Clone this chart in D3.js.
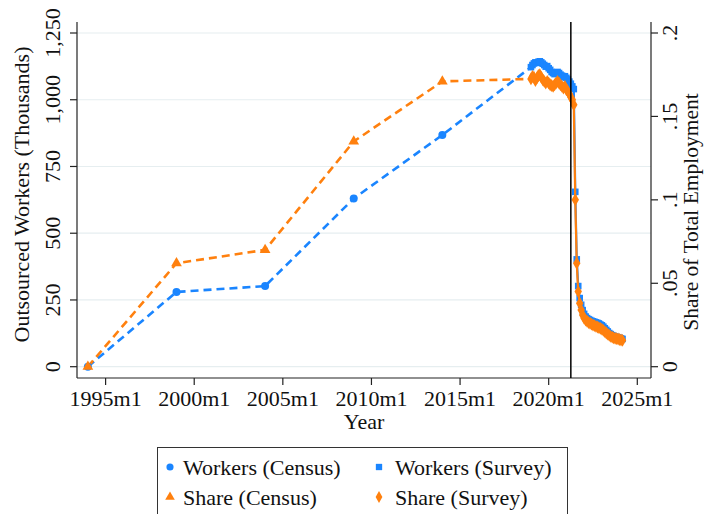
<!DOCTYPE html>
<html><head><meta charset="utf-8">
<script src="https://cdn.jsdelivr.net/npm/d3@7"></script>
<style>
html,body{margin:0;padding:0;background:#fff;}
svg{display:block;}
text{font-family:"Liberation Serif","Times New Roman",serif;fill:#111;}
</style></head>
<body>
<svg id="chart" width="704" height="514"></svg>
<script>
// ---------- DATA ----------
const censusDates   = ["1994m1","1999m1","2004m1","2009m1","2014m1"];
const censusWorkers = [0, 280, 302, 630, 868];
const censusShare   = [0, 0.062, 0.070, 0.135, 0.171];

const surveyDates = [
 "2019m1","2019m2","2019m3","2019m4","2019m5","2019m6","2019m7","2019m8","2019m9","2019m10","2019m11","2019m12",
 "2020m1","2020m2","2020m3","2020m4","2020m5","2020m6","2020m7","2020m8","2020m9","2020m10","2020m11","2020m12",
 "2021m1","2021m2","2021m3","2021m4","2021m5","2021m6","2021m7","2021m8","2021m9","2021m10","2021m11","2021m12",
 "2022m1","2022m2","2022m3","2022m4","2022m5","2022m6","2022m7","2022m8","2022m9","2022m10","2022m11","2022m12",
 "2023m1","2023m2","2023m3","2023m4","2023m5","2023m6","2023m7","2023m8","2023m9","2023m10","2023m11","2023m12",
 "2024m1","2024m2","2024m3"];
const surveyWorkers = [
 1122,1130,1136,1140,1138,1142,1144,1140,1135,1130,1124,1126,
 1118,1112,1104,1100,1096,1098,1104,1100,1094,1090,1084,1088,
 1082,1076,1068,1060,1050,1040,655,402,302,257,232,212,
 198,188,182,178,175,172,170,168,166,164,162,158,
 155,150,144,138,132,126,122,118,115,113,111,110,
 108,106,104];
const surveyShare = [
 .1725,.1740,.1735,.1715,.1730,.1745,.1750,.1735,.1720,.1710,.1700,.1710,
 .1700,.1690,.1685,.1680,.1690,.1700,.1710,.1700,.1690,.1680,.1670,.1680,
 .1660,.1650,.1635,.1615,.1600,.1570,.1000,.0620,.0450,.0380,.0340,.0310,
 .0290,.0280,.0272,.0265,.0260,.0255,.0250,.0246,.0242,.0238,.0234,.0230,
 .0225,.0218,.0210,.0202,.0195,.0188,.0182,.0177,.0173,.0170,.0168,.0166,
 .0163,.0160,.0158];

const xTickDates   = ["1995m1","2000m1","2005m1","2010m1","2015m1","2020m1","2025m1"];
const yLeftTicks   = [0, 250, 500, 750, 1000, 1250];
const yRightTicks  = [0, 0.05, 0.1, 0.15, 0.2];
const yRightLabels = ["0", ".05", ".1", ".15", ".2"];
const eventDate    = "2021m4";
const legendLabels = ["Workers (Census)", "Workers (Survey)", "Share (Census)", "Share (Survey)"];

// ---------- SETUP ----------
const BLUE = "#1a85ff", ORANGE = "#ff800e";
const parseYM = s => { const [y, m] = s.split("m").map(Number); return y + (m - 1) / 12; };
const svg = d3.select("#chart");
const P = {left: 77, right: 651, top: 22, bottom: 378};

const x  = d3.scaleLinear().domain([1995, 2025]).range([105.6, 637.3]);
const yL = d3.scaleLinear().domain([0, 1250]).range([366.7, 33]);
const yR = d3.scaleLinear().domain([0, 0.2]).range([366.7, 33]);

// gridlines
svg.append("g").selectAll("line").data(yLeftTicks).join("line")
  .attr("x1", P.left).attr("x2", P.right)
  .attr("y1", d => yL(d)).attr("y2", d => yL(d))
  .attr("stroke", "#e6eef0").attr("stroke-width", 1.2);

// axes lines
const axisColor = "#222";
svg.append("line").attr("x1", P.left).attr("x2", P.left).attr("y1", P.top).attr("y2", P.bottom).attr("stroke", axisColor).attr("stroke-width", 1.2);
svg.append("line").attr("x1", P.right).attr("x2", P.right).attr("y1", P.top).attr("y2", P.bottom).attr("stroke", axisColor).attr("stroke-width", 1.2);
svg.append("line").attr("x1", P.left).attr("x2", P.right).attr("y1", P.bottom).attr("y2", P.bottom).attr("stroke", axisColor).attr("stroke-width", 1.2);

// bottom ticks
const gx = svg.append("g");
xTickDates.forEach(t => {
  const xv = x(parseYM(t));
  gx.append("line").attr("x1", xv).attr("x2", xv).attr("y1", P.bottom).attr("y2", P.bottom + 7).attr("stroke", axisColor).attr("stroke-width", 1.2);
  gx.append("text").attr("x", xv).attr("y", 406).attr("text-anchor", "middle").attr("font-size", 22).text(t);
});
svg.append("text").attr("x", (P.left + P.right) / 2).attr("y", 429).attr("text-anchor", "middle").attr("font-size", 22).text("Year");

// left ticks
const fmt = d3.format(",");
yLeftTicks.forEach(t => {
  const yv = yL(t);
  svg.append("line").attr("x1", P.left - 7).attr("x2", P.left).attr("y1", yv).attr("y2", yv).attr("stroke", axisColor).attr("stroke-width", 1.2);
  svg.append("text").attr("transform", `translate(60,${yv}) rotate(-90)`).attr("text-anchor", "middle").attr("font-size", 22).text(fmt(t));
});
svg.append("text").attr("transform", `translate(29,194.5) rotate(-90)`).attr("text-anchor", "middle").attr("font-size", 22).text("Outsourced Workers (Thousands)");

// right ticks
yRightTicks.forEach((t, i) => {
  const yv = yR(t);
  svg.append("line").attr("x1", P.right).attr("x2", P.right + 7).attr("y1", yv).attr("y2", yv).attr("stroke", axisColor).attr("stroke-width", 1.2);
  svg.append("text").attr("transform", `translate(677,${yv}) rotate(-90)`).attr("text-anchor", "middle").attr("font-size", 22).text(yRightLabels[i]);
});
svg.append("text").attr("transform", `translate(698,212) rotate(-90)`).attr("text-anchor", "middle").attr("font-size", 21.5).text("Share of Total Employment");

// ---------- SERIES ----------
const cW = censusDates.map((d, i) => ({x: parseYM(d), y: censusWorkers[i]}));
const cS = censusDates.map((d, i) => ({x: parseYM(d), y: censusShare[i]}));
const sW = surveyDates.map((d, i) => ({x: parseYM(d), y: surveyWorkers[i]}));
const sS = surveyDates.map((d, i) => ({x: parseYM(d), y: surveyShare[i]}));

const lineL = d3.line().x(d => x(d.x)).y(d => yL(d.y));
const lineR = d3.line().x(d => x(d.x)).y(d => yR(d.y));

// census dashed lines (continue to first survey observation)
svg.append("path").attr("d", lineL(cW.concat([sW[0]]))).attr("fill", "none").attr("stroke", BLUE).attr("stroke-width", 2.6).attr("stroke-dasharray", "8,5");
svg.append("path").attr("d", lineR(cS.concat([sS[0]]))).attr("fill", "none").attr("stroke", ORANGE).attr("stroke-width", 2.6).attr("stroke-dasharray", "8,5");

// census markers
svg.append("g").selectAll("circle").data(cW).join("circle")
  .attr("cx", d => x(d.x)).attr("cy", d => yL(d.y)).attr("r", 4).attr("fill", BLUE);
const tri = d3.symbol().type(d3.symbolTriangle).size(50);
svg.append("g").selectAll("path").data(cS).join("path")
  .attr("d", tri).attr("transform", d => `translate(${x(d.x)},${yR(d.y)})`).attr("fill", ORANGE);

// survey workers
svg.append("path").attr("d", lineL(sW)).attr("fill", "none").attr("stroke", BLUE).attr("stroke-width", 2.2);
svg.append("g").selectAll("rect").data(sW).join("rect")
  .attr("x", d => x(d.x) - 3.3).attr("y", d => yL(d.y) - 3.3).attr("width", 6.6).attr("height", 6.6).attr("fill", BLUE);

// survey share
svg.append("path").attr("d", lineR(sS)).attr("fill", "none").attr("stroke", ORANGE).attr("stroke-width", 2.2);
const dia = d3.symbol().type(d3.symbolDiamond).size(48);
svg.append("g").selectAll("path").data(sS).join("path")
  .attr("d", dia).attr("transform", d => `translate(${x(d.x)},${yR(d.y)})`).attr("fill", ORANGE);

// event line
const ex = x(parseYM(eventDate));
svg.append("line").attr("x1", ex).attr("x2", ex).attr("y1", P.top).attr("y2", P.bottom).attr("stroke", "#000").attr("stroke-width", 1.5);

// ---------- LEGEND ----------
const lg = svg.append("g");
lg.append("rect").attr("x", 157.5).attr("y", 447.5).attr("width", 410).attr("height", 80).attr("fill", "#fff").attr("stroke", "#333").attr("stroke-width", 1);
const items = [
  {mx: 170, my: 467, tx: 183, ty: 475, type: "circle", color: BLUE},
  {mx: 379, my: 467, tx: 395, ty: 475, type: "square", color: BLUE},
  {mx: 170, my: 497, tx: 183, ty: 505, type: "triangle", color: ORANGE},
  {mx: 379, my: 497, tx: 395, ty: 505, type: "diamond", color: ORANGE}
];
items.forEach((it, i) => {
  let sym;
  if (it.type === "circle") sym = d3.symbol().type(d3.symbolCircle).size(40);
  else if (it.type === "square") sym = d3.symbol().type(d3.symbolSquare).size(40);
  else if (it.type === "triangle") sym = d3.symbol().type(d3.symbolTriangle).size(40);
  else sym = d3.symbol().type(d3.symbolDiamond).size(40);
  lg.append("path").attr("d", sym).attr("transform", `translate(${it.mx},${it.my})`).attr("fill", it.color);
  lg.append("text").attr("x", it.tx).attr("y", it.ty).attr("font-size", 22).text(legendLabels[i]);
});
</script>
</body></html>
